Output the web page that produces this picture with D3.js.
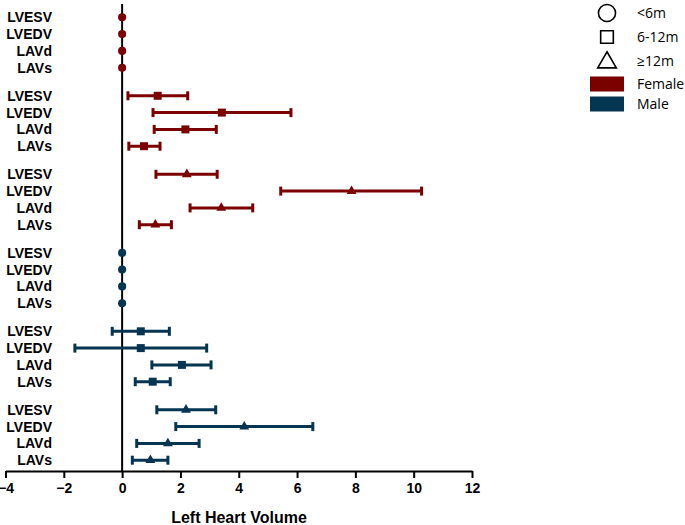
<!DOCTYPE html>
<html>
<head>
<meta charset="utf-8">
<script src="https://cdn.jsdelivr.net/npm/d3@7"></script>
<style>
  body { margin: 0; background: #fff; }
  svg { display: block; }
</style>
</head>
<body>
<svg id="chart" width="685" height="525"></svg>
<script>
// rows inside each group
const measures = ['LVESV', 'LVEDV', 'LAVd', 'LAVs'];
// groups top to bottom
const groups = ['F<6m', 'F6-12m', 'F>=12m', 'M<6m', 'M6-12m', 'M>=12m'];
const groupSex = ['Female', 'Female', 'Female', 'Male', 'Male', 'Male'];
const groupAge = ['<6m', '6-12m', '≥12m', '<6m', '6-12m', '≥12m'];
// mean and CI per group, in the order of measures
const meanValues = [
    [0, 0, 0, 0],
    [1.22, 3.42, 2.17, 0.75],
    [2.22, 7.87, 3.40, 1.14],
    [0, 0, 0, 0],
    [0.64, 0.64, 2.05, 1.05],
    [2.19, 4.19, 1.57, 0.97]
];
const lowerValues = [
    [0, 0, 0, 0],
    [0.20, 1.06, 1.10, 0.23],
    [1.16, 5.44, 2.33, 0.59],
    [0, 0, 0, 0],
    [-0.34, -1.62, 1.02, 0.45],
    [1.19, 1.84, 0.50, 0.35]
];
const upperValues = [
    [0, 0, 0, 0],
    [2.25, 5.79, 3.23, 1.30],
    [3.26, 10.27, 4.48, 1.69],
    [0, 0, 0, 0],
    [1.62, 2.90, 3.05, 1.65],
    [3.21, 6.54, 2.64, 1.57]
];
const xTicks = [-4, -2, 0, 2, 4, 6, 8, 10, 12];
const ageLegend = ['<6m', '6-12m', '≥12m'];
const sexLegend = ['Female', 'Male'];

const colors = { Female: '#7b0000', Male: '#053550' };
const shapes = { '<6m': d3.symbolCircle, '6-12m': d3.symbolSquare, '≥12m': d3.symbolTriangle };
const markSize = { '<6m': 52, '6-12m': 64, '≥12m': 42 };

const svg = d3.select('#chart');

const x = d3.scaleLinear().domain([-4, 12]).range([5.5, 472]);
const yGroup = d3.scaleBand().domain(groups).range([8.9, 468.6]).paddingInner(0.144).paddingOuter(0);
const yRow = d3.scalePoint().domain(measures).range([0, yGroup.bandwidth()]).padding(0.5);

// flatten for drawing
const rows = [];
groups.forEach((g, gi) => {
    measures.forEach((m, mi) => {
        rows.push({
            group: g, measure: m,
            sex: groupSex[gi], age: groupAge[gi],
            mean: meanValues[gi][mi], lo: lowerValues[gi][mi], hi: upperValues[gi][mi]
        });
    });
});
const yOf = d => yGroup(d.group) + yRow(d.measure);

// x axis
const xAxisG = svg.append('g')
    .attr('transform', `translate(0,${471})`)
    .call(d3.axisBottom(x).tickValues(xTicks).tickSize(7).tickSizeOuter(0).tickPadding(5));
xAxisG.select('.domain').attr('stroke', '#000').attr('stroke-width', 2);
xAxisG.selectAll('.tick line').attr('stroke', '#000').attr('stroke-width', 2);
xAxisG.selectAll('.tick text')
    .attr('font-family', 'Liberation Sans, Arial, sans-serif')
    .attr('font-weight', 'bold')
    .attr('font-size', 14)
    .attr('fill', '#000');

svg.append('text')
    .attr('x', 239).attr('y', 523)
    .attr('text-anchor', 'middle')
    .attr('font-family', 'Liberation Sans, Arial, sans-serif')
    .attr('font-weight', 'bold')
    .attr('font-size', 16)
    .text('Left Heart Volume');

// zero reference line
svg.append('line')
    .attr('x1', x(0)).attr('x2', x(0))
    .attr('y1', 4).attr('y2', 471)
    .attr('stroke', '#000').attr('stroke-width', 2);

// row labels
svg.append('g').selectAll('text')
    .data(rows)
    .join('text')
    .attr('x', 52)
    .attr('y', yOf)
    .attr('dy', '0.36em')
    .attr('text-anchor', 'end')
    .attr('font-family', 'Liberation Sans, Arial, sans-serif')
    .attr('font-weight', 'bold')
    .attr('font-size', 14)
    .text(d => d.measure);

// error bars
const bars = rows.filter(d => d.hi > d.lo);
const eb = svg.append('g').selectAll('g')
    .data(bars)
    .join('g')
    .attr('stroke', d => colors[d.sex]);
eb.append('line')
    .attr('x1', d => x(d.lo)).attr('x2', d => x(d.hi))
    .attr('y1', yOf).attr('y2', yOf)
    .attr('stroke-width', 3);
eb.append('line')
    .attr('x1', d => x(d.lo)).attr('x2', d => x(d.lo))
    .attr('y1', d => yOf(d) - 4.5).attr('y2', d => yOf(d) + 4.5)
    .attr('stroke-width', 3);
eb.append('line')
    .attr('x1', d => x(d.hi)).attr('x2', d => x(d.hi))
    .attr('y1', d => yOf(d) - 4.5).attr('y2', d => yOf(d) + 4.5)
    .attr('stroke-width', 3);

// means
svg.append('g').selectAll('path')
    .data(rows)
    .join('path')
    .attr('transform', d => `translate(${x(d.mean)},${yOf(d)})`)
    .attr('d', d => d3.symbol(shapes[d.age], markSize[d.age])())
    .attr('fill', d => colors[d.sex]);

// legend
const legend = svg.append('g').attr('font-family', 'Open Sans, Liberation Sans, sans-serif').attr('font-size', 14);
const legendSizes = { '<6m': 230, '6-12m': 160, '≥12m': 150 };
ageLegend.forEach((a, i) => {
    const cy = 13 + i * 24;
    legend.append('path')
        .attr('transform', `translate(607,${cy + (a === '≥12m' ? 1.5 : 0)})`)
        .attr('d', d3.symbol(shapes[a], legendSizes[a])())
        .attr('fill', 'none').attr('stroke', '#000').attr('stroke-width', 1.6);
    legend.append('text')
        .attr('x', 637).attr('y', cy).attr('dy', '0.36em')
        .text(a);
});
sexLegend.forEach((s, i) => {
    const cy = 84 + i * 20;
    legend.append('rect')
        .attr('x', 590).attr('y', cy - 7.5)
        .attr('width', 34).attr('height', 15)
        .attr('fill', colors[s]);
    legend.append('text')
        .attr('x', 637).attr('y', cy).attr('dy', '0.36em')
        .text(s);
});
</script>
</body>
</html>
